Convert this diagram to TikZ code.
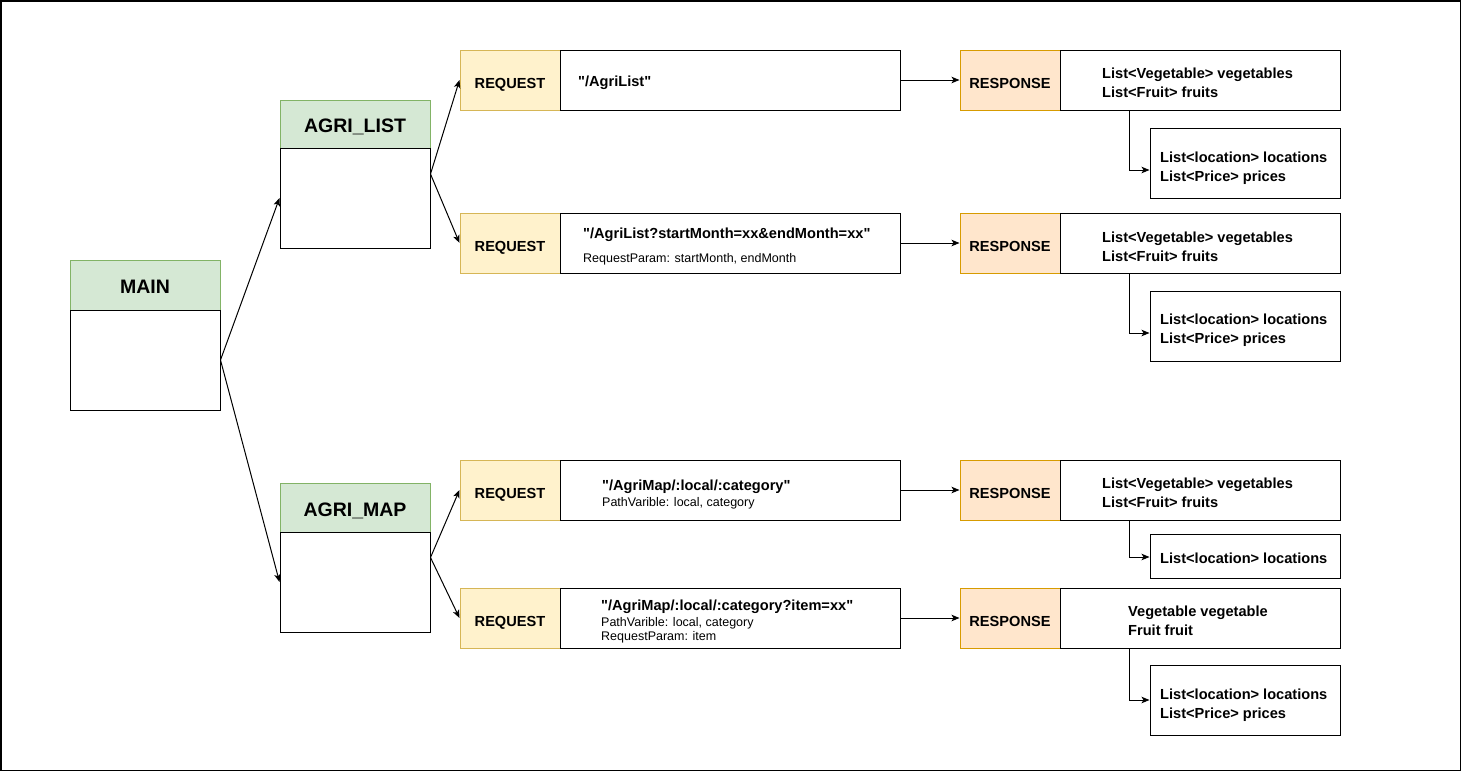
\documentclass[tikz,border=0pt]{standalone}
\usepackage{fontspec}
% a family without TeX ligatures, so that " stays a straight quote
\newfontfamily\plainsans{Liberation Sans}
\setmainfont{Liberation Sans}
\usetikzlibrary{arrows.meta,calc}

\definecolor{hdrfill}{HTML}{D5E8D4}
\definecolor{hdrline}{HTML}{82B366}
\definecolor{reqfill}{HTML}{FFF2CC}
\definecolor{reqline}{HTML}{D6B656}
\definecolor{resfill}{HTML}{FFE6CC}
\definecolor{resline}{HTML}{D79B00}

\tikzset{
  box/.style={draw=black, line width=1pt, fill=white, inner sep=0pt, rectangle},
  header/.style={draw=hdrline, fill=hdrfill, line width=1pt, inner sep=0pt,
    minimum width=150pt, text height=17pt, text depth=0pt,
    font=\plainsans\fontsize{19.5}{22}\selectfont\bfseries},
  body/.style={box, minimum width=150pt, minimum height=100pt},
  reqbox/.style={draw=reqline, fill=reqfill, line width=1pt, inner sep=0pt,
    minimum width=100pt, minimum height=60pt, text height=16pt, text depth=0pt,
    font=\plainsans\fontsize{14.6}{17}\selectfont\bfseries},
  resbox/.style={draw=resline, fill=resfill, line width=1pt, inner sep=0pt,
    minimum width=100pt, minimum height=60pt, text height=16pt, text depth=0pt,
    font=\plainsans\fontsize{14.6}{17}\selectfont\bfseries},
  urlbox/.style={box, minimum width=340pt, minimum height=60pt},
  databox/.style={box, minimum width=280pt, minimum height=60pt},
  subbox/.style={box, minimum width=190pt},
  big/.style={anchor=base west, inner sep=0pt, font=\plainsans\fontsize{14.6}{17}\selectfont\bfseries},
  small/.style={anchor=base west, inner sep=0pt, font=\plainsans\fontsize{12.5}{15}\selectfont},
  arr/.style={draw=black, line width=1pt, -{Stealth[length=8pt,width=6.5pt,inset=2pt]}},
}

\begin{document}
\begin{tikzpicture}[x=1pt, y=-1pt]
  \useasboundingbox (0,0) rectangle (1461,771);
  \draw[line width=1.5pt] (0.75,0.75) rectangle (1460.25,770.25);

  % controllers
  \node[header, minimum height=50pt] (mainh) at (145,285) {MAIN};
  \node[body] (mainb) at (145,360) {};
  \node[header, minimum height=48pt] (listh) at (355,124) {AGRI\_LIST};
  \node[body] (listb) at (355,198) {};
  \node[header, minimum height=49pt] (maph) at (355,507.5) {AGRI\_MAP};
  \node[body] (mapb) at (355,582) {};

  % requests
  \node[reqbox] (rq1) at (510,80) {REQUEST};
  \node[urlbox] (rc1) at (730,80) {};
  \node[reqbox] (rq2) at (510,243) {REQUEST};
  \node[urlbox] (rc2) at (730,243) {};
  \node[reqbox] (rq3) at (510,490) {REQUEST};
  \node[urlbox] (rc3) at (730,490) {};
  \node[reqbox] (rq4) at (510,618) {REQUEST};
  \node[urlbox] (rc4) at (730,618) {};

  \node[big] (u1) at (578,86) {"/AgriList"};
  \node[big] (u2) at (583,238) {"/AgriList?startMonth=xx\&endMonth=xx"};
  \node[small] (p2) at (583,262.5) {RequestParam: startMonth, endMonth};
  \node[big] (u3) at (602,490) {"/AgriMap/:local/:category"};
  \node[small] (p3) at (602,506) {PathVarible: local, category};
  \node[big] (u4) at (601,610) {"/AgriMap/:local/:category?item=xx"};
  \node[small] (p4a) at (601,626) {PathVarible: local, category};
  \node[small] (p4b) at (601,640) {RequestParam: item};

  % responses
  \node[resbox] (rs1) at (1010,80) {RESPONSE};
  \node[databox] (rd1) at (1200,80) {};
  \node[resbox] (rs2) at (1010,243) {RESPONSE};
  \node[databox] (rd2) at (1200,243) {};
  \node[resbox] (rs3) at (1010,490) {RESPONSE};
  \node[databox] (rd3) at (1200,490) {};
  \node[resbox] (rs4) at (1010,618) {RESPONSE};
  \node[databox] (rd4) at (1200,618) {};

  \node[subbox, minimum height=70pt] (sb1) at (1245,163) {};
  \node[subbox, minimum height=70pt] (sb2) at (1245,326) {};
  \node[subbox, minimum height=44pt] (sb3) at (1245,556) {};
  \node[subbox, minimum height=70pt] (sb4) at (1245,700) {};

  \node[big] (d1a) at (1102,78) {List<Vegetable> vegetables};
  \node[big] (d1b) at (1102,97) {List<Fruit> fruits};
  \node[big] (d2a) at (1102,242) {List<Vegetable> vegetables};
  \node[big] (d2b) at (1102,261) {List<Fruit> fruits};
  \node[big] (d3a) at (1102,488) {List<Vegetable> vegetables};
  \node[big] (d3b) at (1102,507) {List<Fruit> fruits};
  \node[big] (d4a) at (1128,616) {Vegetable vegetable};
  \node[big] (d4b) at (1128,635) {Fruit fruit};

  \node[big] (s1a) at (1160,162) {List<location> locations};
  \node[big] (s1b) at (1160,181) {List<Price> prices};
  \node[big] (s2a) at (1160,324) {List<location> locations};
  \node[big] (s2b) at (1160,343) {List<Price> prices};
  \node[big] (s3a) at (1160,563) {List<location> locations};
  \node[big] (s4a) at (1160,699) {List<location> locations};
  \node[big] (s4b) at (1160,718) {List<Price> prices};

  % connectors
  \draw[arr] (mainb.east) -- (listb.west);
  \draw[arr] (mainb.east) -- (mapb.west);

  \coordinate (listout) at ($(listh.north east)!0.5!(listb.south east)$);
  \coordinate (mapout) at ($(maph.north east)!0.5!(mapb.south east)$);
  \draw[arr] (listout) -- (rq1.west);
  \draw[arr] (listout) -- (rq2.west);
  \draw[arr] (mapout) -- (rq3.west);
  \draw[arr] (mapout) -- (rq4.west);

  \draw[arr] (rc1.east) -- (rs1.west);
  \draw[arr] (rc2.east) -- (rs2.west);
  \draw[arr] (rc3.east) -- (rs3.west);
  \draw[arr] (rc4.east) -- (rs4.west);

  \draw[arr] ([xshift=70pt]rd1.south west) |- ([yshift=-7pt]sb1.west);
  \draw[arr] ([xshift=70pt]rd2.south west) |- ([yshift=-7pt]sb2.west);
  \draw[arr] ([xshift=70pt]rd3.south west) |- ([yshift=-1pt]sb3.west);
  \draw[arr] ([xshift=70pt]rd4.south west) |- (sb4.west);
\end{tikzpicture}
\end{document}
